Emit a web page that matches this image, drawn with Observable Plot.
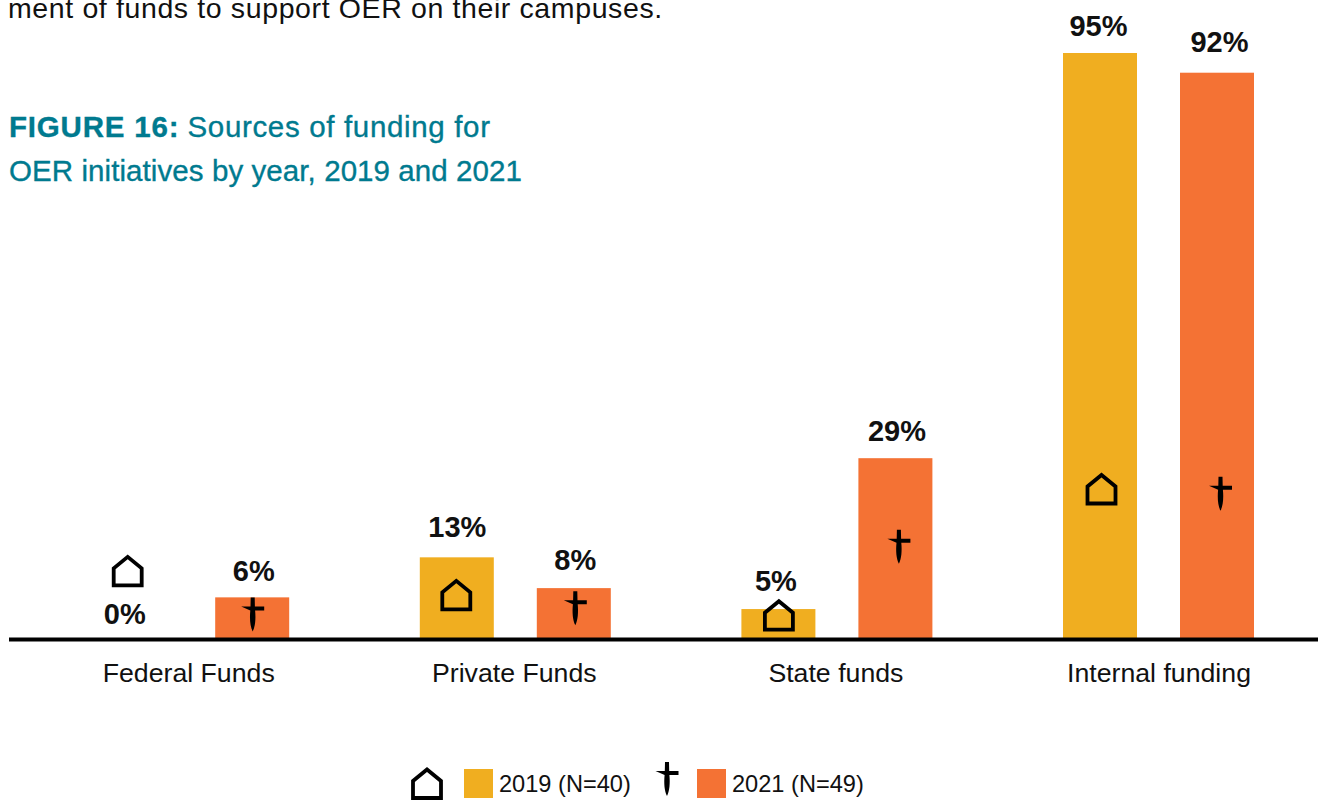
<!DOCTYPE html>
<html><head><meta charset="utf-8">
<script src="https://cdn.jsdelivr.net/npm/d3@7"></script>
<script src="https://cdn.jsdelivr.net/npm/@observablehq/plot@0.6"></script>
<style>
html,body{margin:0;padding:0;background:#fff;overflow:hidden;width:1318px;height:801px;font-family:"Liberation Sans",Arial,sans-serif}
#page{position:relative;width:1318px;height:801px;overflow:hidden}
.abs{position:absolute;white-space:nowrap}
#intro{left:8px;top:-7px;font-size:28.5px;line-height:30px;letter-spacing:.62px;color:#111}
#title{left:9px;top:104.5px;font-size:29.5px;line-height:44px;color:#007a8f;-webkit-text-stroke:.35px #007a8f}
#title b{letter-spacing:.8px}
#title .a{letter-spacing:.66px}
#title .b{letter-spacing:.08px}
#chart{position:absolute;left:0;top:0}
.sw{position:absolute;width:29px;height:29px;top:769px}
.lg{position:absolute;top:770px;font-size:23.6px;line-height:28px;color:#111;white-space:nowrap}
.mk{position:absolute;left:0;top:0}
</style></head><body><div id="page">
<div id="chart"></div>
<div class="abs" id="intro">ment of funds to support OER on their campuses.</div>
<div class="abs" id="title"><b>FIGURE 16:</b> <span class="a">Sources of funding for</span><br><span class="b">OER initiatives by year, 2019 and 2021</span></div>
<div id="legend"></div>
</div>
<script>
const categories = ["Federal Funds","Private Funds","State funds","Internal funding"];
const years = ["2019 (N=40)","2021 (N=49)"];
const heights2019 = [0,13.1,4.7,95];
const heights2021 = [6.6,8.1,29.2,91.8];
const labels2019 = ["0%","13%","5%","95%"];
const labels2021 = ["6%","8%","29%","92%"];
const houseAt = [10.9,7,3.7,24.2];
const daggerAt = [3.9,4.9,14.9,23.5];
const gold = "#f0ae20", orange = "#f47234";

const house = {draw(c,size){
  const k = Math.sqrt(size/Math.PI)/16;
  c.moveTo(-14*k,14*k);c.lineTo(14*k,14*k);c.lineTo(14*k,-3*k);c.lineTo(0,-14.5*k);c.lineTo(-14*k,-3*k);c.closePath();
}};
const dagger = {draw(c,size){
  const k = Math.sqrt(size/Math.PI)/16;
  c.moveTo(-11.5*k,-8*k);c.lineTo(-2.2*k,-8*k);c.lineTo(-2*k,-17*k);c.lineTo(2*k,-17*k);c.lineTo(2.2*k,-8*k);c.lineTo(11.5*k,-8*k);c.lineTo(11.5*k,-4*k);c.lineTo(2.4*k,-4*k);
  c.bezierCurveTo(3.2*k,4*k,2.6*k,12*k,0,17*k);
  c.bezierCurveTo(-2.6*k,12*k,-3.2*k,4*k,-2.4*k,-4*k);c.closePath();
}};

const rows = categories.map((c,i)=>({c,i,h19:heights2019[i],h21:heights2021[i],l19:labels2019[i],l21:labels2021[i],ho:houseAt[i],da:daggerAt[i]}));
const off = 58.5, bw = 74, band = 321.6;
const inL19 = band/2-off-bw/2, inR19 = band-inL19-bw;
const inL21 = band/2+off-bw/2, inR21 = band-inL21-bw;
const labelFont = {fontFamily:"Liberation Sans",fontSize:29,fontWeight:700,fill:"#111"};
const axisFont = {tickSize:0,tickPadding:24.5,fontSize:26.7,fontFamily:"Liberation Sans",fill:"#111",label:null,anchor:"bottom"};
const houseMark = (i,dx)=>Plot.dot([rows[i]],{x:"c",y:"ho",symbol:house,r:16,fill:"none",stroke:"#000",strokeWidth:3.8,dx});
const daggerMark = (i,dx)=>Plot.dot([rows[i]],{x:"c",y:"da",symbol:dagger,r:16,fill:"#000",stroke:"none",dx});
const label19 = (i,dx,dy)=>Plot.text([rows[i]],{x:"c",y:"h19",text:"l19",dx,dy,...labelFont});
const label21 = (i,dx,dy)=>Plot.text([rows[i]],{x:"c",y:"h21",text:"l21",dx,dy,...labelFont});

const chart = Plot.plot({
  width:1318,height:700,marginTop:53,marginBottom:62,marginLeft:9,marginRight:0,
  style:{background:"transparent",overflow:"visible"},
  x:{domain:categories,range:[32.9,32.9+4*band],padding:0,round:false,label:null},
  y:{domain:[0,95],range:[638,53],axis:null},
  marks:[
    Plot.barY(rows,{x:"c",y:"h19",fill:gold,insetLeft:inL19,insetRight:inR19}),
    Plot.barY(rows,{x:"c",y:"h21",fill:orange,insetLeft:inL21,insetRight:inR21}),
    Plot.ruleY([0],{stroke:"#000",strokeWidth:4,dy:1}),
    Plot.axisX([categories[0]],{...axisFont,dx:-5.5}),
    Plot.axisX(categories.slice(1,3),{...axisFont,dx:-1.5}),
    Plot.axisX([categories[3]],{...axisFont,dx:0}),
    houseMark(0,-off-8), houseMark(1,-off-1), houseMark(2,-off), houseMark(3,-off+1),
    daggerMark(0,off),   daggerMark(1,off+1), daggerMark(2,off+3), daggerMark(3,off+3),
    label19(0,-off-11,-24), label19(1,-off,-30), label19(2,-off-3,-28), label19(3,-off-2,-27),
    label21(0,off+1,-26), label21(1,off+1,-28), label21(2,off+1,-27), label21(3,off+2,-30)
  ]
});
document.getElementById("chart").append(chart);

const pathOf = s => d3.symbol(s,16*16*Math.PI)();
const legend = document.getElementById("legend");
legend.innerHTML = `
<svg class="mk" width="1318" height="801" style="overflow:visible">
 <path transform="translate(427,784)" d="${pathOf(house)}" fill="none" stroke="#000" stroke-width="3.8"/>
 <path transform="translate(667,779)" d="${pathOf(dagger)}" fill="#000"/>
</svg>
<div class="sw" style="left:464px;background:${gold}"></div>
<div class="lg" style="left:499px">${years[0]}</div>
<div class="sw" style="left:697px;background:${orange}"></div>
<div class="lg" style="left:732px">${years[1]}</div>`;
</script></body></html>
